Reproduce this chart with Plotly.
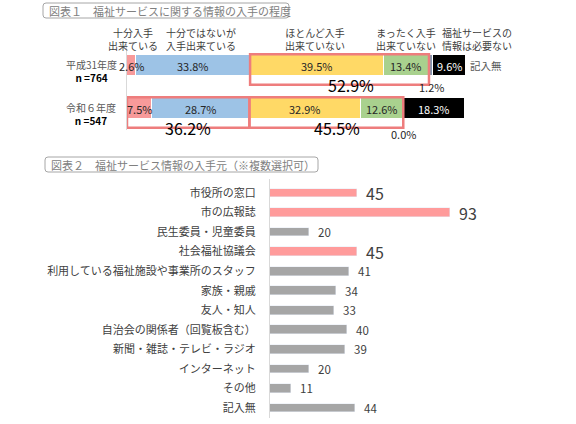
import plotly.graph_objects as go

# 図表1 data (percent)
years = ["平成31年度", "令和６年度"]
n_values = [764, 547]
levels = ["十分入手<br>出来ている", "十分ではないが<br>入手出来ている", "ほとんど入手<br>出来ていない",
          "まったく入手<br>出来ていない", "福祉サービスの<br>情報は必要ない", "記入無"]
h31 = [2.6, 33.8, 39.5, 13.4, 1.2, 9.6]
r6 = [7.5, 28.7, 32.9, 12.6, 0.0, 18.3]
level_colors = ["#f79a9a", "#9dc3e6", "#ffd966", "#a9d18e", "#8497b0", "#000000"]

# 図表2 data (count)
sources = ["市役所の窓口", "市の広報誌", "民生委員・児童委員", "社会福祉協議会",
           "利用している福祉施設や事業所のスタッフ", "家族・親戚", "友人・知人",
           "自治会の関係者（回覧板含む）", "新聞・雑誌・テレビ・ラジオ", "インターネット",
           "その他", "記入無"]
counts = [45, 93, 20, 45, 41, 34, 33, 40, 39, 20, 11, 44]
highlight = ["市役所の窓口", "市の広報誌", "社会福祉協議会"]

W, H = 576, 424
FONT = "Noto Sans CJK JP"
px = lambda x: x / W
py = lambda y: 1 - y / H

fig = go.Figure()

rows = [h31, r6]
row_y = [1, 0]
for i, name in enumerate(levels):
    fig.add_trace(go.Bar(
        x=[r[i] for r in rows], y=row_y, orientation="h", name=name,
        marker=dict(color=level_colors[i], line=dict(color="white", width=1.5)),
        width=0.5, xaxis="x", yaxis="y", showlegend=False, hoverinfo="x",
    ))

annotations = []
# segment labels
for r, vals in enumerate(rows):
    start = 0
    for i, v in enumerate(vals):
        mid = start + v / 2
        start += v
        color = "white" if level_colors[i] == "#000000" else "#262626"
        yshift = 0
        if i == 4:
            color = "#262626"
            yshift = -21 if r == 0 else -25
        annotations.append(dict(x=mid, y=row_y[r], xref="x", yref="y", text=f"{v:.1f}%",
                                showarrow=False, yshift=yshift, xanchor="center", yanchor="middle",
                                font=dict(size=11, color=color, family=FONT)))

# header labels above the stacked bars
header_x = [133, 201, 315, 406, 477]
for hx, lab in zip(header_x, levels[:5]):
    annotations.append(dict(x=px(hx), y=py(39), xref="paper", yref="paper", text=lab,
                            xanchor="center", yanchor="middle", showarrow=False,
                            font=dict(size=10, color="#404040", family=FONT)))
annotations.append(dict(x=px(468), y=row_y[0], xref="paper", yref="y", text=levels[5],
                        xanchor="left", yanchor="middle", showarrow=False,
                        font=dict(size=10.5, color="#595959", family=FONT)))

# row labels
for yr, n, yy in zip(years, n_values, row_y):
    annotations.append(dict(x=px(91), y=yy, xref="paper", yref="y", yshift=-5, showarrow=False,
                            xanchor="center", yanchor="middle",
                            text=f"<span style='color:#595959'>{yr}</span><br><b>n ={n}</b>",
                            font=dict(size=10, color="#000000", family=FONT)))

# highlighted groups (row, first idx, last idx, label xshift)
groups = [(0, 2, 3, 11), (1, 0, 1, 0), (1, 2, 3, 11)]
shapes = []
for r, a, b, xs in groups:
    vals = rows[r]
    x0 = sum(vals[:a])
    x1 = sum(vals[:b + 1])
    top = row_y[r] + 0.26
    bot = row_y[r] - 0.45
    shapes.append(dict(type="rect", xref="x", yref="y", x0=x0, x1=x1, y0=bot, y1=top,
                       line=dict(color="#ee7d7d", width=2.5)))
    annotations.append(dict(x=(x0 + x1) / 2, y=bot, xref="x", yref="y", xshift=xs,
                            text=f"{x1 - x0:.1f}%", showarrow=False, xanchor="center", yanchor="middle",
                            font=dict(size=16, color="#000000", family=FONT)))

# 図表2 bars
bar_colors = ["#ff9b9b" if s in highlight else "#a6a6a6" for s in sources]
fig.add_trace(go.Bar(
    x=counts, y=sources, orientation="h", marker_color=bar_colors, width=0.45,
    xaxis="x2", yaxis="y2", showlegend=False, hoverinfo="x",
))
for s, c in zip(sources, counts):
    big = s in highlight
    annotations.append(dict(x=c, y=s, xref="x2", yref="y2", xanchor="left", yanchor="middle", xshift=7,
                            text=str(c), showarrow=False,
                            font=dict(size=16 if big else 11.5, color="#404040", family=FONT)))


# title boxes with rounded corners
def rounded_box(x0, y0, x1, y1, r=3):
    X0, X1 = px(x0), px(x1)
    Y0, Y1 = py(y0), py(y1)
    rx, ry = r / W, r / H
    return (f"M {X0 + rx},{Y0} L {X1 - rx},{Y0} Q {X1},{Y0} {X1},{Y0 - ry} "
            f"L {X1},{Y1 + ry} Q {X1},{Y1} {X1 - rx},{Y1} L {X0 + rx},{Y1} "
            f"Q {X0},{Y1} {X0},{Y1 + ry} L {X0},{Y0 - ry} Q {X0},{Y0} {X0 + rx},{Y0} Z")


titles = [("図表１　福祉サービスに関する情報の入手の程度", 43, 3, 289, 18),
          ("図表２　福祉サービス情報の入手元（※複数選択可）", 45, 157, 318, 172)]
for text, x0, y0, x1, y1 in titles:
    shapes.append(dict(type="path", xref="paper", yref="paper", path=rounded_box(x0, y0, x1, y1),
                       line=dict(color="#a6a6a6", width=1)))
    annotations.append(dict(x=px(x0 + 4), y=py((y0 + y1) / 2), xref="paper", yref="paper",
                            xanchor="left", yanchor="middle", text=text, showarrow=False,
                            font=dict(size=11, color="#808080", family=FONT)))

fig.update_layout(
    width=W, height=H, margin=dict(l=0, r=0, t=0, b=0),
    paper_bgcolor="white", plot_bgcolor="white",
    barmode="stack", bargap=0,
    font=dict(family=FONT, color="#404040"),
    xaxis=dict(domain=[px(127), px(465.5)], range=[0, 100.1], visible=False, fixedrange=True),
    yaxis=dict(domain=[py(130), py(44)], range=[-0.5, 1.5], showticklabels=False, showgrid=False,
               zeroline=False, showline=True, linecolor="#d9d9d9", ticks="", fixedrange=True),
    xaxis2=dict(domain=[px(270), 1], range=[0, 158.5], visible=False, fixedrange=True, anchor="y2"),
    yaxis2=dict(domain=[py(418), py(179)], categoryorder="array", categoryarray=sources,
                autorange="reversed", showgrid=False, zeroline=False, showline=True,
                linecolor="#d9d9d9", ticks="outside", ticklen=11, tickcolor="rgba(0,0,0,0)",
                tickfont=dict(size=11, color="#404040", family=FONT), anchor="x2", fixedrange=True),
    annotations=annotations, shapes=shapes,
)

# drop the browser's default 8px page margin so the figure sits at the window corner
fig.write_html("out.html", config={"displayModeBar": False},
               post_script="document.body.style.margin = '0';")
